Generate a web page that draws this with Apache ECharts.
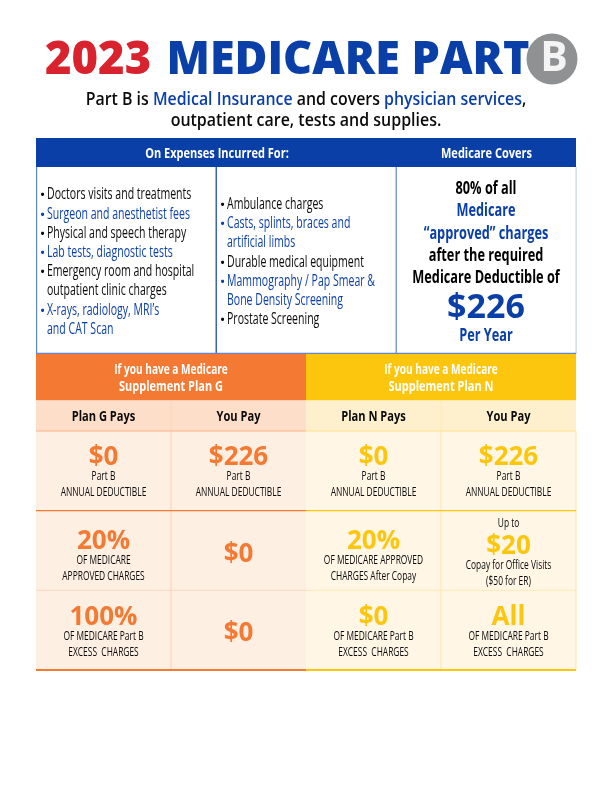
<!DOCTYPE html>
<html><head><meta charset="utf-8">
<style>html,body{margin:0;padding:0;background:#fff}#c{width:612px;height:792px}</style>
<script src="https://cdn.jsdelivr.net/npm/echarts@6/dist/echarts.min.js"></script></head>
<body><div id="c"></div>
<script>
// ---- content ----
const titleYear = "2023";
const titleRest = "MEDICARE PART";
const titleBadge = "B";
const subtitle1 = [["Part B is ",0],["Medical Insurance",1],[" and covers ",0],["physician services",1],[",",0]];
const subtitle2 = "outpatient care, tests and supplies.";
const headerLeft = "On Expenses Incurred For:";
const headerRight = "Medicare Covers";
// [text, isBlue, hasBullet]
const expensesA = [
  ["Doctors visits and treatments",0,1],["Surgeon and anesthetist fees",1,1],
  ["Physical and speech therapy",0,1],["Lab tests, diagnostic tests",1,1],
  ["Emergency room and hospital",0,1],["outpatient clinic charges",0,0],
  ["X-rays, radiology, MRI’s",1,1],["and CAT Scan",1,0]];
const expensesB = [
  ["Ambulance charges",0,1],["Casts, splints, braces and",1,1],["artificial limbs",1,0],
  ["Durable medical equipment",0,1],["Mammography / Pap Smear &",1,1],
  ["Bone Density Screening",1,0],["Prostate Screening",0,1]];
const coversLines = [["80% of all",0],["Medicare",1],["“approved” charges",1],["after the required",0],["Medicare Deductible of",0]];
const coversAmount = "$226";
const coversPer = "Per Year";
const planTitles = [["If you have a Medicare","Supplement ","Plan G"],["If you have a Medicare","Supplement ","Plan N"]];
const columns = ["Plan G Pays","You Pay","Plan N Pays","You Pay"];
const rows = ["Deductible","Approved","Excess"];
// each cell: big value, lines below (optional line above)
const cells = [
  [0,0,"$0",["Part B","ANNUAL DEDUCTIBLE"]],
  [1,0,"$226",["Part B","ANNUAL DEDUCTIBLE"]],
  [2,0,"$0",["Part B","ANNUAL DEDUCTIBLE"]],
  [3,0,"$226",["Part B","ANNUAL DEDUCTIBLE"]],
  [0,1,"20%",["OF MEDICARE","APPROVED CHARGES"]],
  [1,1,"$0",[]],
  [2,1,"20%",["OF MEDICARE APPROVED","CHARGES After Copay"]],
  [3,1,"$20",["Copay for Office Visits","($50 for ER)"],"Up to"],
  [0,2,"100%",["OF MEDICARE Part B","EXCESS  CHARGES"]],
  [1,2,"$0",[]],
  [2,2,"$0",["OF MEDICARE Part B","EXCESS  CHARGES"]],
  [3,2,"All",["OF MEDICARE Part B","EXCESS  CHARGES"]]
];
// ---- style ----
const BLUE="#0b3fa8",RED="#d8232f",GRAY="#8f9193",INK="#0a0a0a",ORANGE="#f47a33",YELLOW="#fdc60e",
  ORANGE_SUB="#fddfc9",YELLOW_SUB="#fef0cc",ORANGE_BG="#feefe3",YELLOW_BG="#fff6e6",
  ORANGE_LN="#fcd5bc",YELLOW_LN="#ffe9ad",EDGE="#5f86cf";
const FF='"Open Sans"';
const DY=0.8; // optical correction for text centring
const BIG_DY=1; // extra drop for the large figures
function T(text,x,y,size,fill,weight,sx,align,z){
  return {type:'text',x:x,y:y+DY,scaleX:sx||1,z:z||10,silent:true,
    style:{text:text,fill:fill,font:(weight||400)+' '+size+'px '+FF,textAlign:align||'center',textVerticalAlign:'middle'}};
}
function R(x,y,w,h,fill,z){return {type:'rect',silent:true,z:z||1,shape:{x:x,y:y,width:w,height:h},style:{fill:fill}};}
const g=[];
// title
g.push(T(titleYear,45,60,46,RED,800,0.985,'left'));
g.push(T(titleRest,166.5,60,46,BLUE,800,0.976,'left'));
g.push({type:'circle',silent:true,z:5,shape:{cx:552,cy:59,r:25.5},style:{fill:GRAY}});
g.push(T(titleBadge,554,59,41,"#f4f4f4",700,1,'center',6));
// subtitle
const richSub={k:{fill:INK,font:'600 17.5px '+FF},b:{fill:BLUE,font:'600 17.5px '+FF}};
g.push({type:'text',x:306,y:100,scaleX:0.908,z:10,silent:true,style:{
  text:subtitle1.map(s=>'{'+(s[1]?'b':'k')+'|'+s[0]+'}').join(''),rich:richSub,textAlign:'center',textVerticalAlign:'middle'}});
g.push(T(subtitle2,306,120.5,17.5,INK,600,0.912));
// top table
g.push(R(36,138,540,29,BLUE));
g.push(T(headerLeft,217,153,14.5,"#fff",700,0.76));
g.push(T(headerRight,486.5,153,14.5,"#fff",700,0.76));
g.push(R(36,167,1.2,187,EDGE),R(215.6,167,1.2,187,BLUE),R(395.6,167,1.2,187,EDGE),R(575.6,167,1,187,"#b9c9ea"));
g.push(R(36,352.8,540,1.2,EDGE));
function list(items,x0,ys){
  items.forEach((it,i)=>{
    const c=it[1]?BLUE:INK;
    if(it[2]) g.push(T("•",x0-4.5,ys[i],11,c,700,1));
    g.push(T(it[0],x0,ys[i],15.5,c,400,0.68,'left'));
  });
}
list(expensesA,47,[194,214,233,252,271,290,310,329]);
list(expensesB,227,[204,223,242,262,281,300,319]);
coversLines.forEach((l,i)=>g.push(T(l[0],486,[188,210,233,255,277][i],17,l[1]?BLUE:"#000",700,0.75)));
g.push(T(coversAmount,486,307+BIG_DY,34,BLUE,700,1));
g.push(T(coversPer,486,335,17,BLUE,700,0.75));
// plan headers
[[36,ORANGE,ORANGE_SUB,171,103.5,238.5],[306,YELLOW,YELLOW_SUB,441,373.5,508.5]].forEach((p,i)=>{
  g.push(R(p[0],354,270,46.5,p[1]));
  g.push(R(p[0],400.5,270,30.5,p[2]));
  g.push(R(p[3]-0.5,400.5,1,30.5,i?YELLOW_LN:ORANGE_LN,2));
  g.push(T(planTitles[i][0],p[3],369,14.5,"#fff",700,0.695));
  g.push({type:'text',x:p[3],y:387,scaleX:0.757,z:10,silent:true,style:{
    text:'{a|'+planTitles[i][1]+'}{a|'+planTitles[i][2]+'}',rich:{a:{fill:'#fff',font:'700 14.5px '+FF}},textAlign:'center',textVerticalAlign:'middle'}});
  g.push(T(columns[i*2],p[4],416,15,INK,700,0.74));
  g.push(T(columns[i*2+1],p[5],416,15,INK,700,0.74));
});
// ---- plan grid: offsets from band centre, by line role ----
const OFFSET={0:{big:-15,sub:[5,21]},1:{big:-11,sub:[9,25]},2:{big:-14,sub:[5,21]}};
const SMALL=12.5, SMALL_SX=0.672;
function renderCell(params,api){
  const col=api.value(0),row=api.value(1),c=cells[params.dataIndex];
  const p=api.coord([col,row]),s=api.size([1,1]),w=s[0],h=s[1];
  const isG=col<2, accent=isG?ORANGE:YELLOW, bg=isG?ORANGE_BG:YELLOW_BG, ln=isG?ORANGE_LN:YELLOW_LN;
  const x=p[0]-w/2,y=p[1]-h/2;
  const rule=row===0?[accent,1.3]:row===1?[ln,1]:[accent,2];
  const ch=[
    {type:'rect',shape:{x:x,y:y,width:w,height:h},style:{fill:bg}},
    {type:'rect',z2:2,shape:{x:x+w-0.6,y:y,width:1.2,height:h},style:{fill:col===1?'rgba(0,0,0,0)':ln}},
    {type:'rect',z2:3,shape:{x:x,y:y+h-rule[1]/2,width:w,height:rule[1]},style:{fill:rule[0]}}
  ];
  if(row===0) ch.push({type:'rect',z2:3,shape:{x:x,y:y-0.6,width:w,height:1.2},style:{fill:isG?'#fcb48a':'#ffe08a'}});
  const txt=(t,dx,dy,size,fill,weight,sx)=>({type:'text',x:p[0]+dx,y:p[1]+dy+DY,scaleX:sx,z2:5,
    style:{text:t,fill:fill,font:weight+' '+size+'px '+FF,textAlign:'center',textVerticalAlign:'middle'}});
  const lines=c[3];
  if(c[4]){ // four-line cell
    ch.push(txt(c[4],0,-28,SMALL,INK,400,SMALL_SX));
    ch.push(txt(c[2],0,-6+BIG_DY,26,accent,700,1));
    ch.push(txt(lines[0],0,14,SMALL,INK,400,SMALL_SX));
    ch.push(txt(lines[1],0,30,SMALL,INK,400,SMALL_SX));
  }else if(!lines.length){
    ch.push(txt(c[2],0,2+BIG_DY,26,accent,700,1));
  }else{
    const o=OFFSET[row];
    ch.push(txt(c[2],0,o.big+BIG_DY,26,accent,700,1));
    lines.forEach((l,i)=>ch.push(txt(l,0,o.sub[i],SMALL,INK,400,SMALL_SX)));
  }
  return {type:'group',children:ch};
}
const chart=echarts.init(document.getElementById('c'),null,{renderer:'canvas'});
chart.setOption({
  animation:false,
  backgroundColor:'#fff',
  grid:{left:36,top:431,width:540,height:239},
  xAxis:{type:'category',data:columns.map((c,i)=>i+':'+c),show:false},
  yAxis:{type:'category',data:rows,inverse:true,show:false},
  graphic:{elements:g},
  series:[{type:'custom',renderItem:renderCell,encode:{x:0,y:1},silent:true,clip:false,
    data:cells.map(c=>[c[0],c[1]])}]
});
</script></body></html>
